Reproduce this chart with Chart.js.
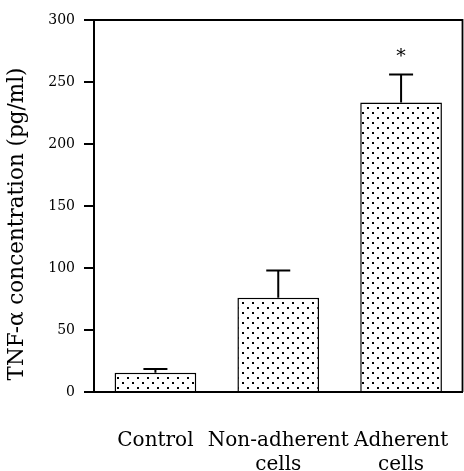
<!DOCTYPE html>
<html>
<head>
<meta charset="utf-8">
<script src="https://cdn.jsdelivr.net/npm/chart.js@4/dist/chart.umd.min.js"></script>
<style>
html,body{margin:0;padding:0;background:#fff;}
#wrap{width:464px;height:471px;}
</style>
</head>
<body>
<div id="wrap"><canvas id="c" width="464" height="471"></canvas></div>
<script>
const categories = [["Control"], ["Non-adherent", "cells"], ["Adherent", "cells"]];
const means = [15.5, 76, 233.5];
const errors = [3, 22, 22.5];
const marks = ["", "", "*"];
const yTicks = [0, 50, 100, 150, 200, 250, 300];
const yTitle = "TNF-\u03b1 concentration (pg/ml)";

const FONT = "'DejaVu Serif', 'Liberation Serif', serif";

function makePattern() {
  const t = document.createElement('canvas');
  t.width = 10; t.height = 10;
  const g = t.getContext('2d');
  g.fillStyle = '#fff';
  g.fillRect(0, 0, 10, 10);
  g.fillStyle = '#000';
  g.fillRect(2, 2, 2, 2);
  g.fillRect(7, 7, 2, 2);
  return document.getElementById('c').getContext('2d').createPattern(t, 'repeat');
}

const decor = {
  id: 'decor',
  afterDatasetsDraw(chart) {
    const ctx = chart.ctx;
    const a = chart.chartArea;
    const y = chart.scales.y;
    const meta = chart.getDatasetMeta(0);
    ctx.save();
    ctx.strokeStyle = '#000';
    ctx.lineWidth = 1.8;
    // frame top and right
    ctx.beginPath();
    ctx.moveTo(a.left, a.top);
    ctx.lineTo(a.right, a.top);
    ctx.lineTo(a.right, a.bottom);
    ctx.stroke();
    // error bars (upward only)
    ctx.lineWidth = 2;
    meta.data.forEach((bar, i) => {
      const x = bar.x;
      const yTop = y.getPixelForValue(means[i] + errors[i]);
      const yBar = y.getPixelForValue(means[i]);
      ctx.beginPath();
      ctx.moveTo(x, yBar);
      ctx.lineTo(x, yTop);
      ctx.moveTo(x - 12, yTop);
      ctx.lineTo(x + 12, yTop);
      ctx.stroke();
      if (marks[i]) {
        ctx.fillStyle = '#000';
        ctx.font = "19px " + FONT;
        ctx.textAlign = 'center';
        ctx.textBaseline = 'alphabetic';
        ctx.fillText(marks[i], x, yTop - 13);
      }
    });
    // y axis title
    ctx.fillStyle = '#000';
    ctx.font = "21.5px " + FONT;
    ctx.textAlign = 'center';
    ctx.textBaseline = 'middle';
    ctx.translate(17, (a.top + a.bottom) / 2 + 18);
    ctx.rotate(-Math.PI / 2);
    ctx.fillText(yTitle, 0, 0);
    ctx.restore();
  }
};

new Chart(document.getElementById('c'), {
  type: 'bar',
  data: {
    labels: categories,
    datasets: [{
      data: means,
      backgroundColor: makePattern(),
      borderColor: '#000',
      borderWidth: 1.5,
      borderSkipped: 'bottom',
      categoryPercentage: 1,
      barPercentage: 0.665
    }]
  },
  options: {
    responsive: false,
    animation: false,
    layout: { padding: { top: 20, right: 1.5, left: 0, bottom: 0 } },
    plugins: { legend: { display: false }, tooltip: { enabled: false } },
    scales: {
      x: {
        grid: { display: false, drawTicks: false },
        border: { color: '#000', width: 2 },
        ticks: {
          color: '#000',
          padding: 37,
          maxRotation: 0,
          autoSkip: false,
          font: { family: FONT, size: 20, lineHeight: 1.2 }
        },
        afterFit(s) { s.height = 79; s.paddingLeft = 0; s.paddingRight = 0; }
      },
      y: {
        min: 0, max: 300,
        afterBuildTicks(s) { s.ticks = yTicks.map(v => ({ value: v })); },
        grid: { drawOnChartArea: false, color: '#000', tickLength: 10, lineWidth: 2 },
        border: { color: '#000', width: 2 },
        ticks: {
          color: '#000',
          padding: 9,
          font: { family: FONT, size: 14 }
        },
        afterFit(s) { s.width = 94; s.paddingTop = 0; s.paddingBottom = 0; }
      }
    }
  },
  plugins: [decor]
});
</script>
</body>
</html>
